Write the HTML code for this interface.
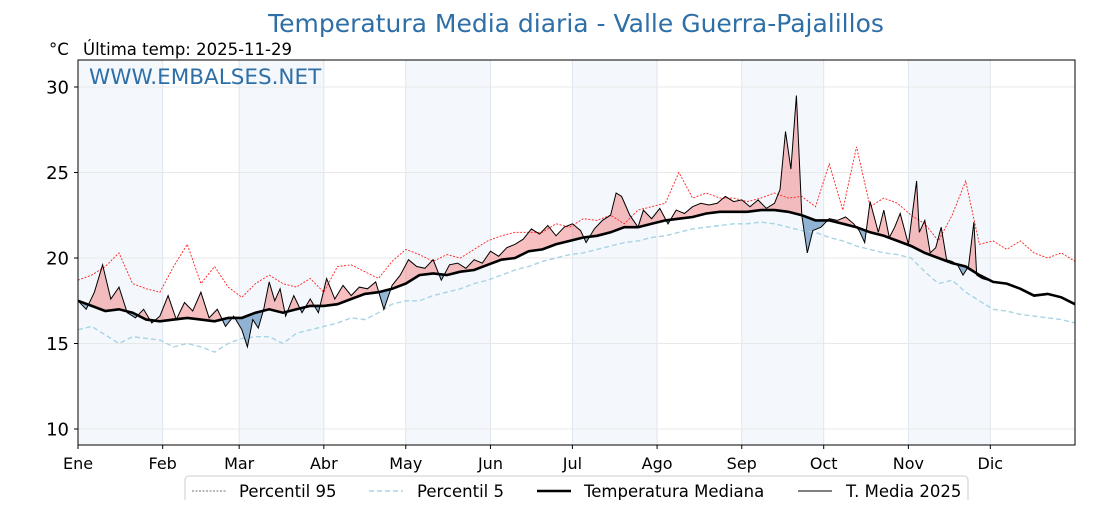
<!DOCTYPE html>
<html><head><meta charset="utf-8"><style>
body{margin:0;background:#fff;width:1120px;height:500px;overflow:hidden;font-family:"Liberation Sans","DejaVu Sans",sans-serif}
svg text{font-family:"DejaVu Sans","Liberation Sans",sans-serif}
</style></head><body>
<svg id="c" width="1120" height="500" xmlns="http://www.w3.org/2000/svg"></svg>
<script>
const stepDays=[0,5,10,15,20,25,30,35,40,45,50,55,60,65,70,75,80,85,90,95,100,105,110,115,120,125,130,135,140,145,150,155,160,165,170,175,180,185,190,195,200,205,210,215,220,225,230,235,240,245,250,255,260,265,270,275,280,285,290,295,300,305,310,315,320,325,330,335,340,345,350,355,360,365];
const median=[17.5,17.2,16.9,17.0,16.8,16.4,16.3,16.4,16.5,16.4,16.3,16.5,16.5,16.8,17.0,16.8,17.0,17.2,17.2,17.3,17.6,17.9,18.0,18.2,18.5,19.0,19.1,19.0,19.2,19.3,19.6,19.9,20.0,20.4,20.5,20.8,21.0,21.2,21.3,21.5,21.8,21.8,22.0,22.2,22.3,22.4,22.6,22.7,22.7,22.7,22.8,22.8,22.7,22.5,22.2,22.2,22.0,21.8,21.5,21.3,21.0,20.7,20.3,20.0,19.7,19.5,19.0,18.6,18.5,18.2,17.8,17.9,17.7,17.3];
const p95=[18.7,19.0,19.5,20.3,18.5,18.2,18.0,19.5,20.8,18.5,19.5,18.3,17.7,18.5,19.0,18.5,18.3,18.8,18.0,19.5,19.6,19.2,18.8,19.8,20.5,20.2,19.8,20.2,20.0,20.5,21.0,21.3,21.5,21.5,21.5,22.0,21.8,22.3,22.2,22.5,22.0,22.8,23.0,23.2,25.0,23.5,23.8,23.5,23.5,23.3,23.5,23.8,23.5,23.6,23.0,25.5,22.8,26.5,23.0,23.5,23.2,22.5,22.0,21.0,22.5,24.5,20.8,21.0,20.5,21.0,20.3,20.0,20.3,19.8];
const p5=[15.8,16.0,15.5,15.0,15.4,15.3,15.2,14.8,15.0,14.8,14.5,15.0,15.3,15.4,15.4,15.0,15.6,15.8,16.0,16.2,16.5,16.4,16.8,17.3,17.5,17.5,17.8,18.0,18.2,18.5,18.7,19.0,19.3,19.5,19.8,20.0,20.2,20.3,20.5,20.7,20.9,21.0,21.2,21.3,21.5,21.7,21.8,21.9,22.0,22.0,22.1,22.0,21.8,21.6,21.5,21.2,21.0,20.7,20.5,20.3,20.2,20.0,19.2,18.5,18.7,18.0,17.5,17.0,16.9,16.7,16.6,16.5,16.4,16.2];
const days25=[0,3,6,9,12,15,18,21,24,27,30,33,36,39,42,45,48,51,54,57,60,62,64,66,68,70,72,74,76,79,82,85,88,91,94,97,100,103,106,109,112,115,118,121,124,127,130,133,136,139,142,145,148,151,154,157,160,163,166,169,172,175,178,181,184,186,189,192,195,197,199,202,205,207,210,213,216,219,222,225,228,231,234,237,240,243,246,249,252,255,257,259,261,263,265,267,269,272,275,278,281,284,286,288,290,293,295,297,299,301,304,307,308,310,312,314,316,318,320,322,324,326,328,329,331,333];
const t2025=[17.5,17.0,18.0,19.6,17.6,18.3,16.8,16.5,17.0,16.2,16.6,17.8,16.4,17.4,16.9,18.0,16.5,17.0,16.0,16.6,15.8,14.8,16.4,15.9,17.0,18.6,17.5,18.2,16.6,17.8,16.8,17.6,16.8,18.8,17.6,18.4,17.8,18.3,18.2,18.6,17.0,18.4,19.0,19.9,19.5,19.4,19.9,18.7,19.6,19.7,19.4,19.9,19.7,20.4,20.1,20.6,20.8,21.1,21.7,21.4,21.9,21.3,21.8,22.0,21.6,20.9,21.7,22.2,22.5,23.8,23.6,22.5,21.8,22.8,22.3,22.9,22.0,22.8,22.6,23.0,23.2,23.1,23.2,23.6,23.3,23.4,23.0,23.4,22.9,23.2,24.0,27.4,25.2,29.5,22.5,20.3,21.6,21.8,22.3,22.2,22.4,22.0,21.6,20.9,23.3,21.5,22.8,21.2,21.8,22.6,20.8,24.5,21.5,22.2,20.3,20.6,21.8,19.9,19.8,19.6,19.0,19.5,22.1,19.0,18.8,18.7];
const monthLabels=["Ene","Feb","Mar","Abr","May","Jun","Jul","Ago","Sep","Oct","Nov","Dic"];
const monthStarts=[0,31,59,90,120,151,181,212,243,273,304,334];
const yTicks=[10,15,20,25,30];

const NS="http://www.w3.org/2000/svg";
const svg=document.getElementById('c');
const L=78,R=1075,T=60,B=445;
const xs=d=>L+d*(R-L)/365;
const ys=v=>429-(v-10)*17.1;
function el(tag,attrs,parent){const e=document.createElementNS(NS,tag);for(const k in attrs)e.setAttribute(k,attrs[k]);(parent||svg).appendChild(e);return e;}
function pts(ds,vs){return ds.map((d,i)=>xs(d).toFixed(1)+','+ys(vs[i]).toFixed(1));}

monthStarts.forEach((d,i)=>{
  const x0=xs(d),x1=i<11?xs(monthStarts[i+1]):R;
  if(i%2===0){const b=el('rect',{x:x0,y:T,width:x1-x0,height:B-T,fill:'#f4f8fc'});
  
  }
  const g=el('line',{x1:x0,x2:x0,y1:T,y2:B,stroke:'#dde6ee','stroke-width':1});
  
  
  const t=el('text',{x:x0,y:469,'font-size':16,'text-anchor':'middle',fill:'#000'});
  t.textContent=monthLabels[i];
  
  
  el('line',{x1:x0,x2:x0,y1:B,y2:B+4,stroke:'#000'});
});
yTicks.forEach(v=>{
  const g=el('line',{x1:L,x2:R,y1:ys(v),y2:ys(v),stroke:'#e8e8e8','stroke-width':1});
  
  
  el('line',{x1:L-4,x2:L,y1:ys(v),y2:ys(v),stroke:'#000'});
  const t=el('text',{x:L-9,y:ys(v)+6.5,'font-size':18,'text-anchor':'end',fill:'#000'});
  t.textContent=v;
  
  
});

const defs=el('defs',{});
const cp=el('clipPath',{id:'cpPlot'},defs);el('rect',{x:L,y:T,width:R-L,height:B-T},cp);
const mPts=pts(stepDays,median);
const ca=el('clipPath',{id:'above'},defs);
el('polygon',{points:mPts.join(' ')+` ${R},${T-200} ${L},${T-200}`},ca);
const cb=el('clipPath',{id:'below'},defs);
el('polygon',{points:mPts.join(' ')+` ${R},${B+200} ${L},${B+200}`},cb);

const g=el('g',{'clip-path':'url(#cpPlot)'});
function interp(d){for(let i=0;i<stepDays.length-1;i++){if(d<=stepDays[i+1]){const f=(d-stepDays[i])/(stepDays[i+1]-stepDays[i]);return median[i]+f*(median[i+1]-median[i]);}}return median[median.length-1];}
const last=days25[days25.length-1];
const mSub=[];const mSubD=[];
for(let d=last;d>=0;d--){mSubD.push(d);mSub.push(interp(d));}
const areaPts=pts(days25,t2025).concat(pts(mSubD,mSub)).join(' ');
const ga=el('g',{'clip-path':'url(#above)'},g);
const fa=el('polygon',{points:areaPts,fill:'#f08080','fill-opacity':0.5},ga);


const gb=el('g',{'clip-path':'url(#below)'},g);
const fb=el('polygon',{points:areaPts,fill:'#4f86b8','fill-opacity':0.6},gb);



const l95=el('polyline',{points:pts(stepDays,p95).join(' '),fill:'none',stroke:'#ff2020','stroke-width':0.9,'stroke-dasharray':'2,1.5'},g);


const l5=el('polyline',{points:pts(stepDays,p5).join(' '),fill:'none',stroke:'#a8d4e4','stroke-width':1.4,'stroke-dasharray':'5,3'},g);


const lm=el('polyline',{points:mPts.join(' '),fill:'none',stroke:'#000','stroke-width':2.6},g);


const l25=el('polyline',{points:pts(days25,t2025).join(' '),fill:'none',stroke:'#000','stroke-width':1},g);



const frame=el('rect',{x:L,y:T,width:R-L,height:B-T,fill:'none',stroke:'#000','stroke-width':1});



function txt(s,a,name){const t=el('text',a);t.textContent=s;return t;}
txt('Temperatura Media diaria - Valle Guerra-Pajalillos',{x:576,y:32,'font-size':25,'text-anchor':'middle',fill:'#2e6fa7'},'chart-title');
txt('°C',{x:49,y:55,'font-size':16.5,fill:'#000'},'y-axis-unit');
txt('Última temp: 2025-11-29',{x:83,y:55,'font-size':16.5,fill:'#000'},'last-temp-label');
txt('WWW.EMBALSES.NET',{x:89,y:84,'font-size':21.5,fill:'#2e6fa7'},'watermark');

const lg=el('g',{});


el('rect',{x:185,y:476,width:783,height:40,rx:4,fill:'#fff',stroke:'#ccc'},lg);
const items=[[192,239,'Percentil 95',{stroke:'#444','stroke-width':0.8,'stroke-dasharray':'2,1.5'}],
[369,417,'Percentil 5',{stroke:'#a8d4e4','stroke-width':1.4,'stroke-dasharray':'5,3'}],
[537,584,'Temperatura Mediana',{stroke:'#000','stroke-width':2.6}],
[798,846,'T. Media 2025',{stroke:'#000','stroke-width':1}]];
items.forEach(it=>{
  const a=Object.assign({x1:it[0],x2:it[0]+34,y1:491,y2:491},it[3]);
  el('line',a,lg);
  const t=el('text',{x:it[1],y:497,'font-size':16.5,fill:'#000'},lg);
  t.textContent=it[2];
  
  
});
</script>
</body></html>
